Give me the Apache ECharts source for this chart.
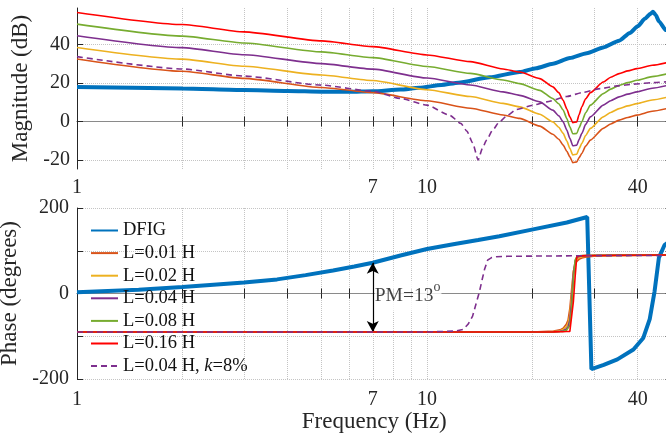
<!DOCTYPE html>
<html><head><meta charset="utf-8">
<script src="https://cdn.jsdelivr.net/npm/echarts@6/dist/echarts.min.js"></script>
<style>html,body{margin:0;padding:0;background:#fff}#c{width:666px;height:435px}</style>
</head><body><div id="c"></div>
<script>
// ---------- data ----------
const seriesNames = ['DFIG','L=0.01 H','L=0.02 H','L=0.04 H','L=0.08 H','L=0.16 H','L=0.04 H, k=8%'];
const xTickValues = [1,2,3,4,5,6,7,8,9,10,20,30,40,50];
const xLabelValues = [1,7,10,40];
const magTickValues = [-20,0,20,40];
const phaseLabelValues = [-200,0,200];

// Magnitude (dB)
const magFreq = [1,2,3,5,7,10,13.3,16.5,18.4,21,22.9,23.8,24.5,25.1,25.6,26.1,26.8,27.2,27.7,28.4,29.3,31.9,33.5,35.4,37.5,39.8,44,50];
const magL001 = [32.5,26.1,22.4,17.7,15,10.8,6.9,3.4,1.6,-2.4,-6.6,-9.2,-12.3,-15.5,-18.4,-21.4,-21,-18.8,-16.6,-12.8,-9.7,-3.6,-1.3,0.7,2.1,3.3,5.3,7.3];
const magL002 = [38.5,32.4,28.7,24.2,21.3,16.5,13,9.4,7.6,3.8,-0.2,-3,-6.2,-10.2,-14,-17.4,-17,-14.2,-11.4,-7.3,-3.6,2.4,4.7,6.7,8.1,9.3,11.2,13.2];
const magL004 = [44.6,38.4,34.7,30.1,27.2,22.6,19,15.4,13.6,10.2,5.9,3.0,-0.2,-4.5,-8.8,-12.6,-12.3,-9.4,-6.2,-1.5,2.4,8.5,10.8,12.8,14.2,15.4,17.3,19.3];
const magL008 = [50.6,44.4,40.8,36.2,33.2,28.6,25,21.6,19.7,16.2,11.9,9.2,5.9,1.5,-2.8,-6.4,-6.2,-3.3,-0.2,4.5,8.5,14.5,16.8,18.8,20.2,21.4,23.3,25.3];
const magL016 = [56.7,50.4,46.6,41.9,38.9,34.6,31.1,27.3,25.7,22.3,18,15,11,6.5,2.4,-0.6,-0.2,3.5,7.6,11.8,15,20.5,23,24.9,26.3,27.5,29.2,31.2];

const magKFreq = [1,2,3,5,7,8.4,10,11.6,12.5,13.0,13.5,14.0,14.4,14.8,15.4,16.1,17.0,18.0,20.1,22,25.1,28,31.3,35,38.9,44,50];
const magK = [33.7,27.3,23.6,18.9,15.7,12.0,8.5,3.3,-1,-5,-11,-20,-14,-9.7,-4.5,-0.2,3.3,6.2,8.5,10.2,13.0,15.2,17.1,18.5,19.4,20.2,20.8];

const magDFIGFreq = [1,2,3,4,5,6,7,8.4,9.5,11,12.3,15.1,18.4,20.5,22.9,25.6,28.6,31.9,35.4,38,40,42,43.5,44.2,45,46,48.2,50];
const magDFIG = [17.9,17.2,16.4,15.9,15.5,15.4,15.7,16.6,17.5,19,20.2,23,25.7,27.7,30,33,35.5,38.5,42,46,49.5,53.5,56,57,55.5,52,47.5,44];

// Phase (degrees)
const phFreq = [1,20,23,24,24.5,25,25.3,25.6,25.9,26.2,26.5,26.8,27.2,27.7,28.5,30,35,50];
const phL001 = [-90,-90,-88,-85,-81,-72,-62,-35,10,52,68,75,80,83,85.5,87,88.5,89.5];
const phL002 = [-90,-90,-89,-87,-84,-78,-70,-50,-5,50,72,80,84,86,87.5,88.5,89,90];
const phL004 = [-90,-90,-89.5,-88.5,-87,-83,-78,-62,-20,45,76,84,87,88,88.5,89,89.5,90];
const phL008 = [-90,-90,-89.8,-89,-88.5,-86.5,-84,-75,-35,30,78,86,88,88.5,89,89.5,89.8,90];
const phL016 = [-90,-90,-89.8,-89.5,-89.3,-89,-88.8,-88.5,-87,-19,38,87,87.5,88,88.5,89,89.5,90];

const phKFreq = [1,10,12.0,12.7,13.1,13.5,13.8,14.1,14.4,14.6,14.9,15.3,15.8,17,20,30,50];
const phK = [-90,-90,-88,-84,-72,-53,-25,2,35,56,78,84,86,87,87.5,88.5,89];

const phDFIGFreq = [1,1.5,2,2.4,3,3.73,4.5,5.39,6.2,7,8.4,10,12,14,16.1,20.1,25.1,28.7,29.5,32,35,38.9,41.5,43.3,44.7,46,47.7,50];
const phDFIG = [3,9,15,20,26,33,43,54,63,72,89,104,116,125,134,150,166,179,-177,-167,-154,-131,-104,-60,5,84,113,125];

// Annotation (phase margin arrow at 7 Hz)
const pmArrowTop = [7, 72];
const pmArrowBottom = [7, -90];
const pmLabelPos = [7, -5];

// ---------- styling ----------
const FONT = 'Liberation Serif';
const TXT = '#262626';
const colors = ['#0072BD','#D95319','#EDB120','#7E2F8E','#77AC30','#FF0000','#7E2F8E'];
const widths = [4,1.6,1.6,1.6,1.6,1.6,1.6];

function pairs(f, v) { return f.map((x, i) => [x, v[i]]); }

const magSets = [[magDFIGFreq,magDFIG],[magFreq,magL001],[magFreq,magL002],[magFreq,magL004],[magFreq,magL008],[magFreq,magL016],[magKFreq,magK]];
const phSets  = [[phDFIGFreq,phDFIG],[phFreq,phL001],[phFreq,phL002],[phFreq,phL004],[phFreq,phL008],[phFreq,phL016],[phKFreq,phK]];

function lineSeries(i, set, xi, yi, smooth) {
  return {
    type: 'line', name: seriesNames[i], xAxisIndex: xi, yAxisIndex: yi,
    data: pairs(set[0], set[1]), symbol: 'none', showSymbol: false,
    smooth: smooth, smoothMonotone: 'x',
    lineStyle: { color: colors[i], width: widths[i], type: i === 6 ? [6, 4] : 'solid' },
    itemStyle: { color: colors[i] },
    emphasis: { disabled: true }, animation: false, z: 2 + i
  };
}

function xMain(g, withName) {
  const ax = {
    type: 'log', logBase: 10, gridIndex: g, min: 1, max: 50, position: 'bottom',
    axisLine: { show: true, lineStyle: { color: '#8a8a8a', width: 1 } },
    axisTick: { show: true, inside: true, length: 5, customValues: xTickValues, lineStyle: { color: TXT } },
    axisLabel: { show: true, customValues: xLabelValues, margin: g === 0 ? 9 : 11, fontFamily: FONT, fontSize: 20, color: TXT,
                 formatter: v => String(Math.round(v)) },
    splitLine: { show: true, lineStyle: { type: 'dotted', color: '#c4c4c4', width: 1 } },
    minorTick: { show: false }, minorSplitLine: { show: false }
  };
  if (withName) {
    ax.name = 'Frequency (Hz)'; ax.nameLocation = 'middle'; ax.nameGap = 29;
    ax.nameTextStyle = { fontFamily: FONT, fontSize: 23, color: TXT };
  }
  return ax;
}
function xTop(g) {
  return {
    type: 'log', logBase: 10, gridIndex: g, min: 1, max: 50, position: 'top',
    axisLine: { show: true, lineStyle: { color: '#8a8a8a', width: 1 } },
    axisTick: { show: true, inside: true, length: 5, customValues: xTickValues, lineStyle: { color: TXT } },
    axisLabel: { show: false }, splitLine: { show: false }
  };
}

const option = {
  backgroundColor: '#fff',
  animation: false,
  grid: [
    { left: 77, top: 8, width: 594.6, height: 161, outerBoundsMode: 'none', containLabel: false },
    { left: 77, top: 208, width: 594.6, height: 171, outerBoundsMode: 'none', containLabel: false }
  ],
  xAxis: [ xMain(0, false), xTop(0), xMain(1, true), xTop(1) ],
  yAxis: [
    { type: 'value', gridIndex: 0, min: -24.7, max: 59, position: 'left',
      name: 'Magnitude (dB)', nameLocation: 'middle', nameGap: 42, nameRotate: 90,
      nameTextStyle: { fontFamily: FONT, fontSize: 23, color: TXT },
      axisLine: { show: true, lineStyle: { color: TXT } },
      axisTick: { show: true, inside: true, length: 6, customValues: magTickValues, lineStyle: { color: TXT } },
      axisLabel: { customValues: magTickValues, margin: 7, fontFamily: FONT, fontSize: 20, color: TXT },
      splitLine: { show: true, lineStyle: { type: 'dotted', color: '#c4c4c4' } } },
    { type: 'value', gridIndex: 0, min: -24.7, max: 59, position: 'right',
      axisLine: { show: true, lineStyle: { color: '#8a8a8a' } },
      axisTick: { show: true, inside: true, length: 6, customValues: magTickValues, lineStyle: { color: TXT } },
      axisLabel: { show: false }, splitLine: { show: false } },
    { type: 'value', gridIndex: 1, min: -200, max: 200, interval: 100, position: 'left',
      name: 'Phase (degrees)', nameLocation: 'middle', nameGap: 49, nameRotate: 90,
      nameTextStyle: { fontFamily: FONT, fontSize: 23, color: TXT },
      axisLine: { show: true, lineStyle: { color: TXT } },
      axisTick: { show: true, inside: true, length: 6, lineStyle: { color: TXT } },
      axisLabel: { customValues: phaseLabelValues, margin: 8, fontFamily: FONT, fontSize: 20, color: TXT },
      splitLine: { show: true, lineStyle: { type: 'dotted', color: '#c4c4c4' } } },
    { type: 'value', gridIndex: 1, min: -200, max: 200, interval: 100, position: 'right',
      axisLine: { show: true, lineStyle: { color: '#8a8a8a' } },
      axisTick: { show: true, inside: true, length: 6, lineStyle: { color: TXT } },
      axisLabel: { show: false }, splitLine: { show: false } }
  ],
  legend: {
    data: seriesNames, orient: 'vertical', left: 90, top: 221, padding: 0,
    itemWidth: 27, itemHeight: 12, itemGap: 3.6, selectedMode: false,
    itemStyle: { opacity: 0 },
    formatter: n => n.replace('k=8%', '{i|k}=8%'),
    textStyle: { fontFamily: FONT, fontSize: 18.5, color: '#111', lineHeight: 18,
      rich: { i: { fontStyle: 'italic', fontFamily: FONT, fontSize: 18.5, color: '#111' } } }
  },
  series: []
};

for (let i = 0; i < 7; i++) option.series.push(lineSeries(i, magSets[i], 0, 0, 0.2));
for (let i = 0; i < 7; i++) option.series.push(lineSeries(i, phSets[i], 2, 2, false));

option.series.push({
  type: 'scatter', name: 'pm', xAxisIndex: 2, yAxisIndex: 2, data: [pmLabelPos],
  symbolSize: 0, silent: true, z: 20,
  label: { show: true, position: 'right', distance: 2, formatter: 'PM=13{s|o}',
    fontFamily: FONT, fontSize: 19.5, lineHeight: 30, color: '#111', backgroundColor: '#fff', padding: [0, 1, 0, 0],
    rich: { s: { fontFamily: FONT, fontSize: 14, lineHeight: 12, color: '#111', verticalAlign: 'top' } } },
  markLine: {
    silent: true, symbol: ['arrow', 'arrow'], symbolSize: [9, 11], animation: false,
    lineStyle: { color: '#000', width: 1.2, type: 'solid' }, label: { show: false },
    emphasis: { disabled: true },
    data: [[{ coord: pmArrowTop }, { coord: pmArrowBottom }]]
  }
});

const chart = echarts.init(document.getElementById('c'), null, { renderer: 'canvas' });
chart.setOption(option);
</script>
</body></html>
